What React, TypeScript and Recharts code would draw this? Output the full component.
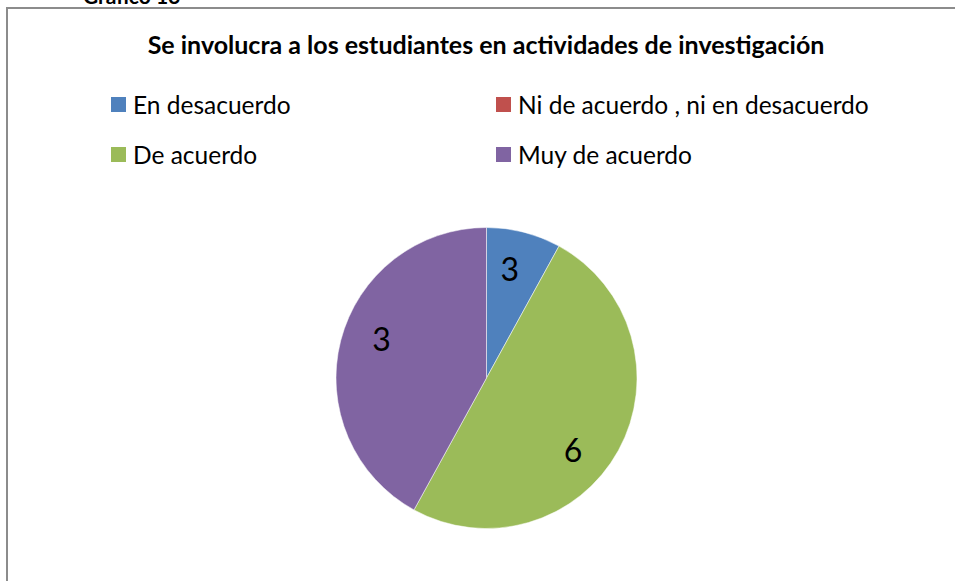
import { PieChart, Pie, Cell, Legend } from 'recharts';

const categories = ['En desacuerdo', 'Ni de acuerdo , ni en desacuerdo', 'De acuerdo', 'Muy de acuerdo'];
// slice sizes (percent of the circle)
const shares = [8, 0, 50, 42];
// the numbers printed on the slices
const sliceLabels = ['3', '', '6', '3'];
const colors = ['#4F81BD', '#C0504D', '#9BBB59', '#8064A2'];

// Excel's "best fit" moves labels off the exact slice middle a bit (degrees, clockwise)
const labelNudge = [-2.4, 0, 10.6, 6.2];

const chartData = categories.map((name, i) => ({ name, value: shares[i], label: sliceLabels[i] }));

const RAD = Math.PI / 180;

function SliceLabel(props: any) {
  const { cx, cy, midAngle, outerRadius, index } = props;
  const text = sliceLabels[index];
  if (!text) return null;
  const r = outerRadius * 0.745;
  const a = midAngle - labelNudge[index];
  const x = cx + r * Math.cos(-a * RAD);
  const y = cy + r * Math.sin(-a * RAD);
  return (
    <text x={x} y={y} fill="#000" fontSize={32} fontFamily="Lato, 'Open Sans', sans-serif" textAnchor="middle" dominantBaseline="central">
      {text}
    </text>
  );
}

function LegendBox() {
  return (
    <div style={{ position: 'absolute', left: 0, top: 0, width: 955, height: 200, fontFamily: 'Lato, sans-serif', fontSize: 24.5, color: '#000' }}>
      {categories.map((name, i) => (
        <div
          key={name}
          style={{
            position: 'absolute',
            left: i % 2 === 0 ? 111 : 496,
            top: i < 2 ? 89 : 139,
            display: 'flex',
            alignItems: 'center',
            height: 30,
            whiteSpace: 'nowrap',
          }}
        >
          <span style={{ display: 'inline-block', width: 15, height: 15, background: colors[i], marginRight: 7 }} />
          <span>{name}</span>
        </div>
      ))}
    </div>
  );
}

export default function App() {
  return (
    <div style={{ position: 'absolute', left: 0, top: 0, width: 955, height: 581, overflow: 'hidden', background: '#fff' }}>
      <div style={{ position: 'absolute', left: 83, top: -17, fontFamily: 'Lato, sans-serif', fontWeight: 700, fontSize: 21 }}>Gráfico 13</div>
      <div style={{ position: 'absolute', left: 6, top: 7, width: 960, height: 600, borderLeft: '2px solid #8c8c8c', borderTop: '2px solid #8c8c8c' }} />
      <div style={{ position: 'absolute', left: 0, top: 29, width: 972, textAlign: 'center', fontFamily: 'Lato, sans-serif', fontWeight: 700, fontSize: 25 }}>
        Se involucra a los estudiantes en actividades de investigación
      </div>
      <div style={{ position: 'absolute', left: 0, top: 0 }}>
        <PieChart width={955} height={581} margin={{ top: 0, right: 0, bottom: 0, left: 0 }}>
          <Pie
            data={chartData}
            dataKey="value"
            nameKey="name"
            cx={486.5}
            cy={378}
            outerRadius={150.5}
            startAngle={90}
            endAngle={-270}
            stroke="#ffffff"
            strokeWidth={0.5}
            label={SliceLabel}
            labelLine={false}
            isAnimationActive={false}
          >
            {chartData.map((d, i) => (
              <Cell key={d.name} fill={colors[i]} />
            ))}
          </Pie>
          <Legend content={() => <LegendBox />} wrapperStyle={{ left: 0, top: 0, width: 955, height: 200 }} />
        </PieChart>
      </div>
    </div>
  );
}
